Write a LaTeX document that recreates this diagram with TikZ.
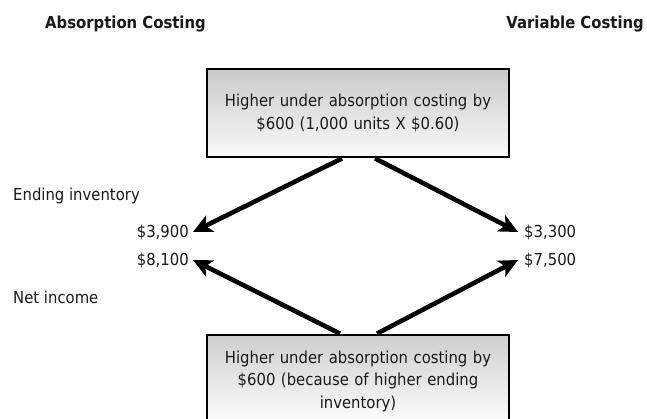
\documentclass[tikz,border=0pt]{standalone}
\usepackage{fontspec}
\setmainfont{DejaVu Sans}[FakeStretch=0.9]
\usetikzlibrary{arrows.meta}
\begin{document}
\begin{tikzpicture}[x=1pt,y=-1pt,
  lbl/.style={inner sep=0pt,font=\fontsize{16.5}{20}\selectfont,text=black!90},
  ttl/.style={inner sep=0pt,font=\fontsize{16.5}{20}\selectfont\bfseries,text=black!90},
  gbox/.style={draw=black,line width=2.8pt,top color=black!21,bottom color=black!2,
    minimum width=302pt,minimum height=88pt,align=center,text width=296pt,
    font=\fontsize{16.5}{22.5}\selectfont,text=black!90,inner sep=0pt},
  arr/.style={line width=4.6pt,-{Stealth[length=19pt,width=18pt,inset=5pt]},black}
]
\useasboundingbox (0,0) rectangle (647,419);
\clip (0,0) rectangle (647,419);
\fill[white] (0,0) rectangle (647,419);

\node[ttl,anchor=west] (abs) at (45,24) {Absorption Costing};
\node[ttl,anchor=east] (var) at (644,24) {Variable Costing};

\node[gbox] (top) at (358,113) {Higher under absorption costing by\\\$600 (1,000 units X \$0.60)};
\node[gbox,top color=black!19,bottom color=white,minimum height=92pt] (bot) at (358,381) {Higher under absorption costing by\\\$600 (because of higher ending\\inventory)};

\node[lbl,anchor=west] (endinv) at (13,196) {Ending inventory};
\node[lbl,anchor=west] (netinc) at (13,297) {Net income};

\node[lbl,anchor=east,inner xsep=4pt] (a1) at (193,232) {\$3,900};
\node[lbl,anchor=east,inner xsep=4pt] (a2) at (193,260) {\$8,100};
\node[lbl,anchor=west,inner xsep=6pt] (v1) at (518,232) {\$3,300};
\node[lbl,anchor=west,inner xsep=6pt] (v2) at (518,260) {\$7,500};

\draw[arr] ([xshift=-16pt]top.south) -- (a1.east);
\draw[arr] ([xshift=17pt]top.south) -- (v1.west);
\draw[arr] ([xshift=-18pt]bot.north) -- (a2.east);
\draw[arr] ([xshift=19pt]bot.north) -- (v2.west);
\end{tikzpicture}
\end{document}
